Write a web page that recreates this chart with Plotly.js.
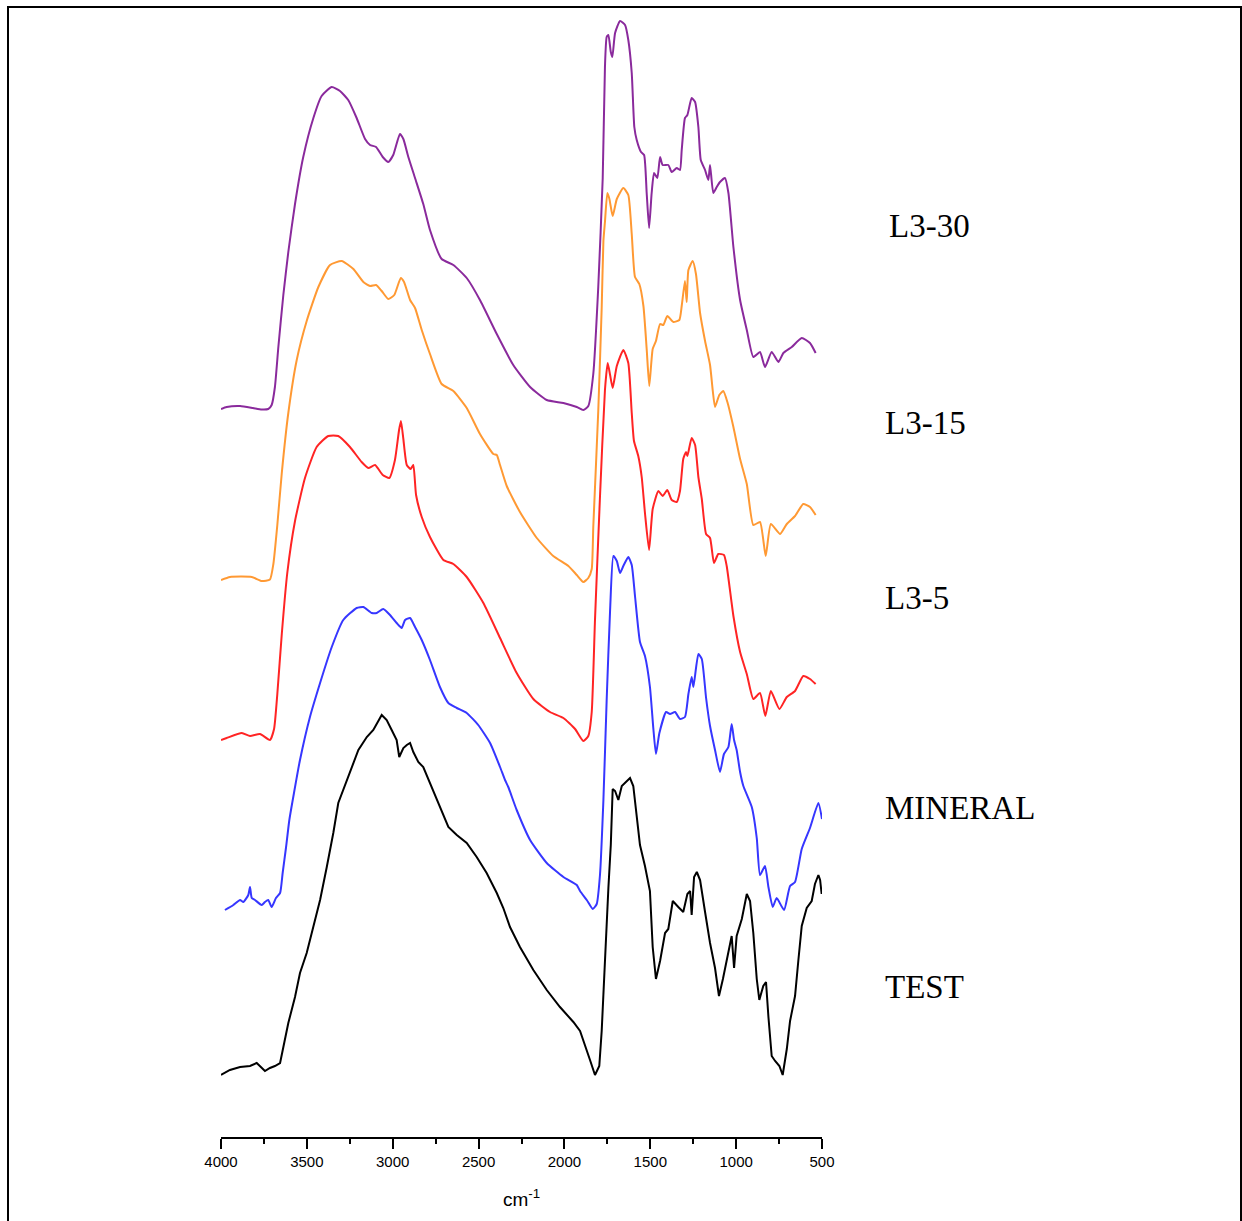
<!DOCTYPE html>
<html>
<head>
<meta charset="utf-8">
<script src="https://cdn.plot.ly/plotly-3.0.1.min.js"></script>
<style>
  html, body { margin: 0; padding: 0; background: #ffffff; }
  #chart { position: absolute; left: 0; top: 0; width: 1242px; height: 1221px; }
  #frame {
    position: absolute; left: 7px; top: 6px; width: 1231px; height: 1300px;
    border: 2px solid #000; pointer-events: none;
  }
</style>
</head>
<body>
<div id="chart"></div>
<div id="frame"></div>
<script>
// Wavenumber axis (cm^-1)
const tickValues = [4000, 3500, 3000, 2500, 2000, 1500, 1000, 500];
const tickLabels = ['4000', '3500', '3000', '2500', '2000', '1500', '1000', '500'];
const minorTickValues = [3750, 3250, 2750, 2250, 1750, 1250, 750];

// Series names, top to bottom
const seriesNames = ['L3-30', 'L3-15', 'L3-5', 'MINERAL', 'TEST'];

// L3-30 spectrum (stacked, arbitrary absorbance units)
const l330Wavenumber = [4000,3967,3889,3814,3763,3725,3705,3686,3666,3637,3608,3569,3521,3462,3414,3355,3307,3259,3210,3161,3132,3097,3058,3026,2997,2958,2938,2909,2870,2822,2783,2715,2647,2569,2492,2394,2298,2200,2103,2006,1928,1890,1861,1832,1803,1777,1764,1754,1744,1730,1721,1705,1676,1647,1628,1608,1593,1579,1554,1536,1521,1507,1492,1478,1459,1443,1428,1395,1375,1346,1327,1317,1298,1284,1259,1239,1220,1206,1181,1162,1152,1133,1113,1094,1065,1045,1016,977,938,900,861,832,793,754,725,676,618,570,537];
const l330Absorbance = [7.28,7.30,7.31,7.29,7.275,7.28,7.32,7.50,7.90,8.42,8.85,9.33,9.80,10.19,10.41,10.50,10.46,10.37,10.19,9.98,9.92,9.90,9.80,9.75,9.82,10.03,9.98,9.80,9.59,9.33,9.07,8.78,8.72,8.59,8.37,8.03,7.72,7.50,7.37,7.34,7.30,7.27,7.31,7.63,8.50,9.59,10.70,11.00,11.02,10.85,10.80,11.04,11.16,11.12,10.97,10.64,10.10,9.97,9.85,9.82,9.44,9.09,9.44,9.64,9.59,9.80,9.72,9.72,9.65,9.69,9.67,9.87,10.19,10.22,10.39,10.35,10.10,9.77,9.67,9.57,9.72,9.44,9.50,9.55,9.59,9.44,8.90,8.37,8.07,7.80,7.85,7.70,7.85,7.75,7.84,7.90,7.99,7.94,7.84];

// L3-15 spectrum
const l315Wavenumber = [4000,3948,3821,3763,3715,3695,3672,3646,3608,3559,3501,3433,3365,3297,3229,3171,3132,3097,3064,3026,2991,2953,2934,2899,2870,2831,2783,2715,2647,2569,2492,2414,2394,2375,2336,2259,2161,2065,1977,1928,1890,1861,1841,1832,1803,1783,1773,1764,1750,1738,1719,1695,1657,1628,1608,1589,1564,1540,1521,1506,1486,1467,1443,1424,1401,1366,1331,1317,1298,1288,1278,1253,1234,1210,1181,1152,1136,1123,1098,1075,1051,1016,977,938,900,861,828,798,744,705,657,609,570,537];
const l315Absorbance = [5.57,5.60,5.60,5.56,5.575,5.73,6.12,6.64,7.24,7.77,8.16,8.50,8.72,8.76,8.68,8.55,8.51,8.52,8.46,8.38,8.42,8.59,8.55,8.37,8.29,8.07,7.83,7.53,7.46,7.29,7.03,6.83,6.82,6.72,6.51,6.25,5.99,5.81,5.71,5.62,5.55,5.59,5.68,6.10,7.26,8.29,8.96,9.15,9.44,9.38,9.21,9.38,9.49,9.42,9.03,8.60,8.53,8.31,7.88,7.51,7.88,7.96,8.13,8.12,8.21,8.15,8.17,8.31,8.56,8.35,8.67,8.76,8.63,8.24,7.96,7.72,7.46,7.30,7.42,7.46,7.35,7.10,6.78,6.53,6.12,6.15,5.81,6.13,6.03,6.13,6.21,6.33,6.30,6.22];

// L3-5 spectrum
const l35Wavenumber = [4000,3967,3879,3831,3773,3715,3691,3672,3646,3614,3569,3511,3443,3375,3317,3249,3181,3142,3103,3058,3020,2987,2963,2952,2938,2918,2895,2880,2864,2831,2783,2705,2647,2569,2472,2375,2278,2181,2084,2006,1938,1890,1861,1841,1822,1793,1764,1748,1734,1719,1695,1657,1628,1608,1595,1570,1550,1531,1507,1486,1453,1428,1401,1375,1346,1327,1308,1292,1284,1259,1239,1220,1200,1175,1152,1129,1104,1071,1055,1016,977,938,900,861,830,798,748,705,657,609,570,537];
const l35Absorbance = [3.97,3.99,4.04,4.01,4.03,3.97,4.08,4.43,5.03,5.64,6.16,6.59,6.90,7.01,7.01,6.90,6.75,6.69,6.72,6.62,6.59,6.77,7.07,7.16,6.98,6.72,6.68,6.72,6.42,6.20,6.00,5.77,5.73,5.60,5.34,4.99,4.64,4.38,4.25,4.19,4.08,3.96,4.01,4.25,5.17,6.40,7.47,7.74,7.62,7.49,7.71,7.87,7.74,7.24,6.96,6.81,6.60,6.24,5.87,6.28,6.46,6.41,6.47,6.37,6.35,6.46,6.78,6.85,6.81,6.99,6.92,6.60,6.38,6.03,5.99,5.74,5.83,5.82,5.71,5.21,4.85,4.63,4.38,4.44,4.21,4.46,4.28,4.40,4.46,4.61,4.58,4.53];

// MINERAL spectrum
const mineralWavenumber = [3977,3928,3889,3870,3841,3831,3821,3802,3763,3744,3725,3705,3680,3656,3641,3621,3602,3575,3540,3482,3423,3355,3288,3210,3171,3122,3093,3055,3016,2977,2948,2928,2899,2870,2831,2783,2725,2676,2627,2569,2502,2433,2375,2346,2327,2278,2200,2103,2006,1928,1909,1870,1835,1812,1793,1773,1754,1734,1715,1695,1676,1657,1628,1608,1589,1560,1531,1502,1482,1467,1447,1408,1385,1356,1327,1298,1278,1259,1249,1220,1200,1175,1152,1123,1094,1071,1045,1026,1012,997,977,958,909,880,861,832,812,787,764,721,686,657,618,570,521,500];
const mineralAbsorbance = [2.27,2.32,2.37,2.35,2.42,2.50,2.39,2.37,2.32,2.35,2.37,2.30,2.39,2.44,2.64,2.90,3.17,3.44,3.77,4.20,4.54,4.90,5.17,5.29,5.30,5.24,5.24,5.28,5.22,5.14,5.09,5.17,5.19,5.10,4.97,4.77,4.50,4.34,4.29,4.24,4.12,3.94,3.70,3.57,3.50,3.27,2.97,2.74,2.60,2.52,2.46,2.37,2.28,2.33,2.62,3.37,4.37,5.27,5.81,5.76,5.64,5.71,5.80,5.72,5.41,4.95,4.81,4.50,4.08,3.83,4.04,4.25,4.23,4.25,4.18,4.20,4.43,4.60,4.50,4.83,4.78,4.39,4.11,3.87,3.65,3.83,3.90,4.13,3.97,3.87,3.65,3.51,3.30,2.99,2.62,2.71,2.50,2.30,2.39,2.27,2.51,2.55,2.88,3.09,3.34,3.18];

// TEST spectrum
const testWavenumber = [4000,3948,3889,3831,3792,3763,3744,3715,3686,3656,3637,3608,3569,3540,3501,3462,3423,3384,3346,3317,3288,3249,3200,3151,3113,3064,3035,3006,2977,2962,2938,2918,2899,2880,2851,2822,2783,2725,2676,2627,2569,2511,2453,2394,2356,2317,2259,2181,2103,2026,1948,1909,1890,1870,1851,1822,1797,1783,1764,1744,1730,1719,1705,1686,1666,1618,1599,1579,1560,1531,1502,1486,1467,1443,1414,1395,1369,1337,1308,1284,1268,1259,1245,1229,1210,1181,1152,1123,1100,1077,1045,1026,1012,997,967,938,919,900,880,865,842,826,812,793,773,748,729,705,686,657,638,618,589,560,541,521,511,502];
const testAbsorbance = [0.62,0.67,0.70,0.71,0.74,0.69,0.66,0.69,0.71,0.74,0.90,1.14,1.40,1.64,1.84,2.10,2.37,2.70,3.04,3.34,3.47,3.64,3.87,4.00,4.07,4.22,4.17,4.07,3.97,3.80,3.89,3.92,3.94,3.85,3.75,3.70,3.54,3.30,3.10,3.02,2.94,2.80,2.64,2.44,2.29,2.10,1.90,1.67,1.47,1.30,1.15,1.06,0.97,0.88,0.77,0.62,0.71,1.06,1.83,2.49,2.92,3.48,3.46,3.37,3.51,3.59,3.51,3.23,2.92,2.71,2.46,1.90,1.58,1.76,2.04,2.08,2.36,2.30,2.25,2.43,2.46,2.22,2.60,2.65,2.57,2.25,1.94,1.69,1.41,1.58,1.83,2.01,1.69,2.01,2.18,2.43,2.36,2.04,1.58,1.37,1.51,1.55,1.20,0.81,0.76,0.71,0.62,0.88,1.16,1.41,1.76,2.11,2.29,2.36,2.53,2.62,2.57,2.43];

const spectra = [
  { x: l330Wavenumber, y: l330Absorbance, color: '#8a2a9c', shape: 'spline' },
  { x: l315Wavenumber, y: l315Absorbance, color: '#ff9933', shape: 'spline' },
  { x: l35Wavenumber, y: l35Absorbance, color: '#ff2424', shape: 'spline' },
  { x: mineralWavenumber, y: mineralAbsorbance, color: '#3636ff', shape: 'spline' },
  { x: testWavenumber, y: testAbsorbance, color: '#000000', shape: 'linear' }
];

const traces = spectra.map((s, i) => ({
  type: 'scatter',
  mode: 'lines',
  name: seriesNames[i],
  x: s.x,
  y: s.y,
  line: { color: s.color, width: 2, shape: s.shape, smoothing: 0.5 },
  hoverinfo: 'x+y+name'
}));

// Series labels placed to the right of the curves
const labelSpots = [
  { x: 1.108, y: 9.11 },
  { x: 1.1015, y: 7.14 },
  { x: 1.1015, y: 5.39 },
  { x: 1.1015, y: 3.29 },
  { x: 1.1015, y: 1.50 }
];
const annotations = seriesNames.map((name, i) => ({
  text: name,
  xref: 'paper', yref: 'y',
  x: labelSpots[i].x, y: labelSpots[i].y,
  xanchor: 'left', yanchor: 'middle',
  showarrow: false,
  font: { family: '"Liberation Serif", "Times New Roman", serif', size: 33, color: '#000' }
}));

const layout = {
  width: 1242,
  height: 1221,
  margin: { l: 221, r: 420, t: 7, b: 84 },
  paper_bgcolor: '#ffffff',
  plot_bgcolor: '#ffffff',
  showlegend: false,
  xaxis: {
    range: [4000, 500],
    tickmode: 'array',
    tickvals: tickValues,
    ticktext: tickLabels,
    ticks: 'outside',
    ticklen: 10,
    tickwidth: 2,
    tickcolor: '#000',
    showline: true,
    linecolor: '#000',
    linewidth: 2,
    showgrid: false,
    zeroline: false,
    tickfont: { family: 'Arial, "Liberation Sans", sans-serif', size: 15, color: '#000' },
    minor: {
      tickmode: 'array',
      tickvals: minorTickValues,
      ticks: 'outside',
      ticklen: 5,
      tickwidth: 2,
      tickcolor: '#000',
      showgrid: false
    },
    title: {
      text: 'cm<sup>-1</sup>',
      font: { family: 'Arial, "Liberation Sans", sans-serif', size: 19, color: '#000' },
      standoff: 24
    }
  },
  yaxis: {
    range: [0, 11.3],
    visible: false,
    showgrid: false,
    zeroline: false
  },
  annotations: annotations
};

Plotly.newPlot('chart', traces, layout, { displayModeBar: false, staticPlot: true });
</script>
</body>
</html>
